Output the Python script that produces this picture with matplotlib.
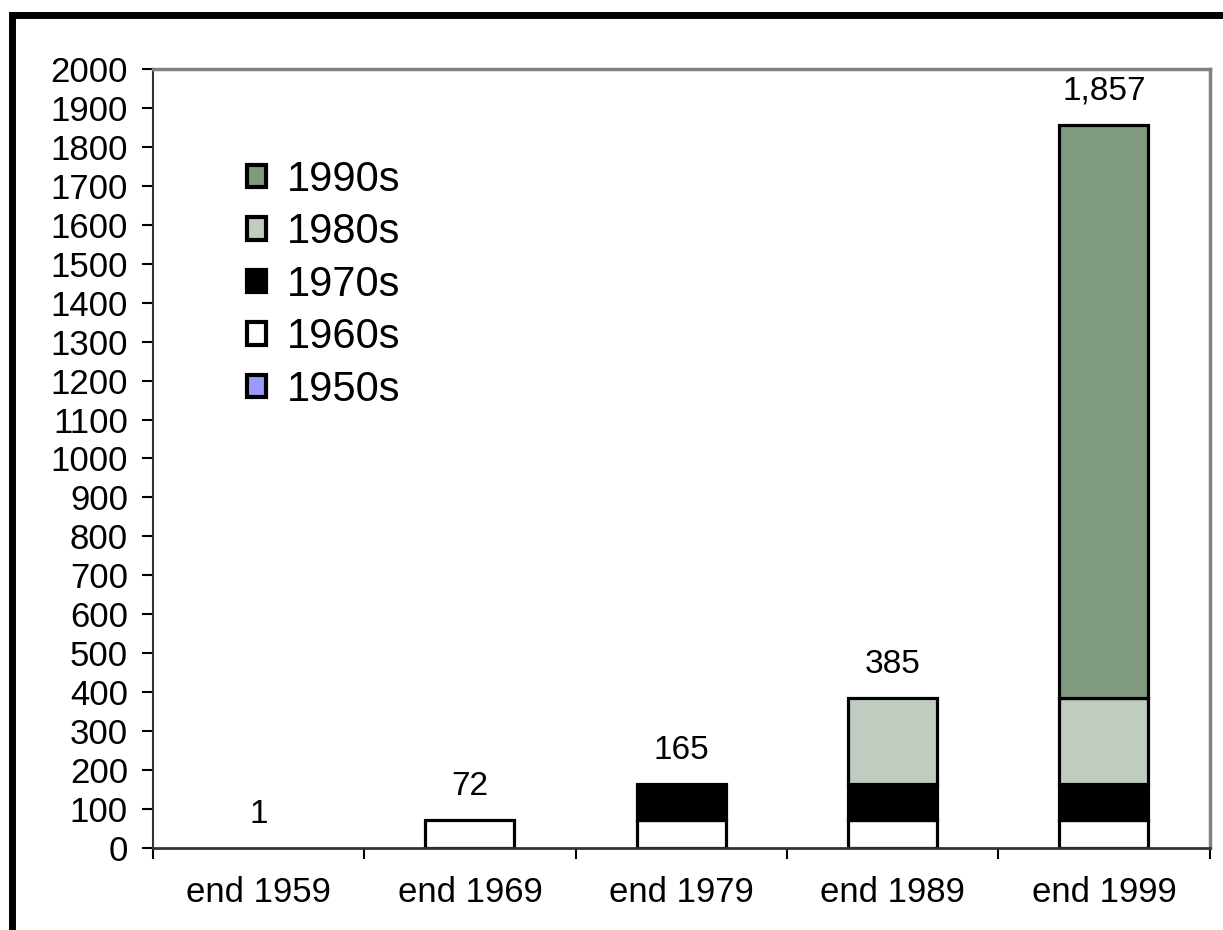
import matplotlib.pyplot as plt
from matplotlib.patches import Rectangle, Patch
import numpy as np

plt.rcParams['font.family'] = ['Liberation Sans', 'DejaVu Sans']

categories = ['end 1959', 'end 1969', 'end 1979', 'end 1989', 'end 1999']
decades = ['1950s', '1960s', '1970s', '1980s', '1990s']
s1950 = [1, 1, 1, 1, 1]
s1960 = [0, 71, 71, 71, 71]
s1970 = [0, 0, 93, 93, 93]
s1980 = [0, 0, 0, 220, 220]
s1990 = [0, 0, 0, 0, 1472]
totals = [1, 72, 165, 385, 1857]
total_labels = ['1', '72', '165', '385', '1,857']
colors = ['#9999ff', '#ffffff', '#000000', '#c0ccc0', '#7f9a7f']

fig = plt.figure(figsize=(12.23, 9.30), dpi=100)
ax = fig.add_axes([0.125, 0.088, 0.864, 0.838])

x = np.arange(len(categories))
bottom = np.zeros(len(categories))
for name, vals, c in zip(decades, [s1950, s1960, s1970, s1980, s1990], colors):
    vals = np.array(vals, dtype=float)
    bars = ax.bar(x, vals, 0.42, bottom=bottom, color=c, edgecolor='black',
                  linewidth=2.3)
    # skip empty / tiny segments
    for b, v in zip(bars, vals):
        if v < 5:
            b.set_visible(False)
    bottom += vals

for xi, t, lab in zip(x, totals, total_labels):
    ax.annotate(lab, (xi, t), xytext=(0, 13), textcoords='offset points',
                ha='center', va='bottom', fontsize=24)

ax.set_xlim(-0.5, len(categories) - 0.5)
ax.set_ylim(0, 2000)
ax.set_yticks(np.arange(0, 2001, 100))
ax.set_xticks(x)
ax.set_xticklabels(categories)
ax.set_xticks(np.arange(-0.5, len(categories), 1), minor=True)
ax.tick_params(axis='x', which='major', length=0, labelsize=25, pad=20)
ax.tick_params(axis='x', which='minor', length=8, width=1.5, direction='out')
ax.tick_params(axis='y', labelsize=25, length=8, width=1.5, direction='out', pad=10)

ax.spines['left'].set_color('#333333')
ax.spines['left'].set_linewidth(1.5)
ax.spines['bottom'].set_color('#333333')
ax.spines['bottom'].set_linewidth(2)
for s in ['top', 'right']:
    ax.spines[s].set_color('#808080')
    ax.spines[s].set_linewidth(2.5)

handles = [Patch(facecolor=c, edgecolor='black', linewidth=3) for c in colors]
ax.legend(handles[::-1], decades[::-1], loc='upper left',
          bbox_to_anchor=(0.0695, 0.91), frameon=False, fontsize=30,
          handlelength=0.45, handleheight=0.45, handletextpad=0.5,
          labelspacing=0.3, borderpad=0)

# outer frame around the chart
fig.patches.append(Rectangle((0.0095, -0.003), 1.0, 0.987, transform=fig.transFigure,
                             fill=False, edgecolor='black', linewidth=5))

fig.savefig('out.png', dpi=100)
